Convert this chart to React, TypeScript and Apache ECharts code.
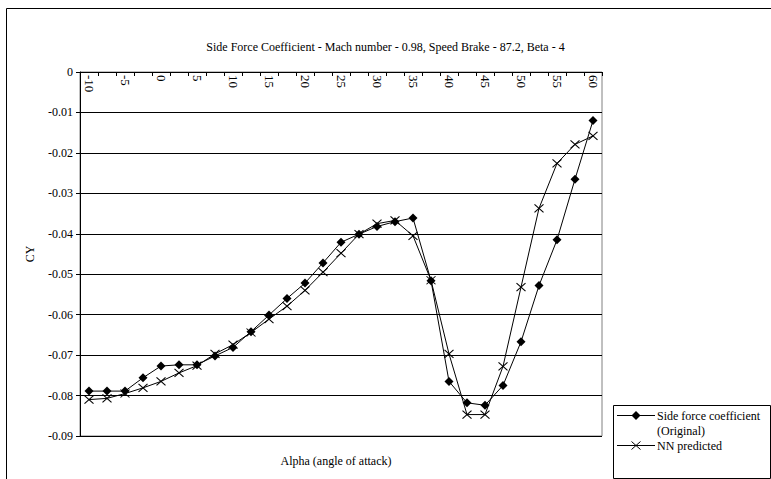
import React, { useEffect, useRef } from 'react';
import * as echarts from 'echarts';

const alphaCategories = ['-10', '-7.5', '-5', '-2.5', '0', '2.5', '5', '7.5', '10', '12.5', '15', '17.5', '20', '22.5', '25', '27.5', '30', '32.5', '35', '37.5', '40', '42.5', '45', '47.5', '50', '52.5', '55', '57.5', '60'];

const originalCY = [-0.0789, -0.0789, -0.0789, -0.0756, -0.0727, -0.0724, -0.0724, -0.0702, -0.0681, -0.0642, -0.0601, -0.0560, -0.0522, -0.0472, -0.0421, -0.0401, -0.0382, -0.0370, -0.0361, -0.0516, -0.0765, -0.0818, -0.0824, -0.0775, -0.0667, -0.0528, -0.0415, -0.0265, -0.0120];

const nnPredictedCY = [-0.0810, -0.0807, -0.0795, -0.0781, -0.0765, -0.0744, -0.0726, -0.0697, -0.0674, -0.0644, -0.0611, -0.0579, -0.0540, -0.0495, -0.0448, -0.0401, -0.0375, -0.0367, -0.0405, -0.0515, -0.0697, -0.0847, -0.0847, -0.0728, -0.0532, -0.0337, -0.0226, -0.0179, -0.0158];

const yMin = -0.09;
const yMax = 0;
const yInterval = 0.01;

const titleText = 'Side Force Coefficient - Mach number - 0.98, Speed Brake - 87.2, Beta - 4';
const xAxisTitle = 'Alpha (angle of attack)';
const yAxisTitle = 'CY';
const seriesNames = ['Side force coefficient\n(Original)', 'NN predicted'];

const FONT = '"Liberation Serif", "Times New Roman", serif';
const CROSS = 'path://M0 0L10 10M10 0L0 10';

export default function App() {
  const ref = useRef<HTMLDivElement>(null);
  useEffect(() => {
    const chart = echarts.init(ref.current!, null, { renderer: 'svg' });
    const option: any = {
      animation: false,
      backgroundColor: '#fff',
      title: {
        text: titleText,
        left: 'center',
        top: 36,
        textStyle: { fontFamily: FONT, fontSize: 12, fontWeight: 'normal', color: '#000' },
      },
      grid: {
        left: 80,
        top: 72,
        right: 169,
        bottom: 43,
        show: true,
        borderColor: '#808080',
        borderWidth: 1,
        backgroundColor: 'transparent',
      },
      xAxis: {
        type: 'category',
        data: alphaCategories,
        position: 'top',
        boundaryGap: true,
        axisLine: { show: true, onZero: false, lineStyle: { color: '#000', width: 1 } },
        axisTick: { show: true, inside: true, length: 4, interval: 0, alignWithLabel: false, lineStyle: { color: '#000' } },
        axisLabel: {
          interval: 1,
          rotate: 90,
          inside: true,
          margin: 3,
          fontFamily: FONT,
          fontSize: 13,
          color: '#000',
        },
        splitLine: { show: false },
      },
      yAxis: {
        type: 'value',
        min: yMin,
        max: yMax,
        interval: yInterval,
        axisLine: { show: true, lineStyle: { color: '#000', width: 1 } },
        axisTick: { show: true, inside: false, length: 4, lineStyle: { color: '#000' } },
        axisLabel: {
          margin: 7,
          fontFamily: FONT,
          fontSize: 12,
          color: '#000',
          formatter: (v: number) => (Math.abs(v) < 1e-9 ? '0' : v.toFixed(2)),
        },
        splitLine: { show: true, lineStyle: { color: '#000', width: 1 } },
      },
      series: [
        {
          name: seriesNames[0],
          type: 'line',
          data: originalCY,
          symbol: 'diamond',
          symbolSize: 9,
          showAllSymbol: true,
          lineStyle: { color: '#000', width: 1 },
          itemStyle: { color: '#000', borderColor: '#000', borderWidth: 0 },
          z: 3,
        },
        {
          name: seriesNames[1],
          type: 'line',
          data: nnPredictedCY,
          symbol: CROSS,
          symbolSize: [9, 8],
          showAllSymbol: true,
          lineStyle: { color: '#000', width: 1 },
          itemStyle: { color: 'none', borderColor: '#000', borderWidth: 1 },
          z: 2,
        },
      ],
      graphic: [
        {
          type: 'rect',
          shape: { x: 6.5, y: 8.5, width: 820, height: 520 },
          style: { fill: 'none', stroke: '#000', lineWidth: 1 },
          silent: true,
        },
        {
          type: 'text',
          x: 30,
          y: 254,
          rotation: Math.PI / 2,
          style: { text: yAxisTitle, fontFamily: FONT, fontSize: 12, fill: '#000', align: 'center', verticalAlign: 'middle' },
        },
        {
          type: 'text',
          x: 336,
          y: 461,
          style: { text: xAxisTitle, fontFamily: FONT, fontSize: 12, fill: '#000', align: 'center', verticalAlign: 'middle' },
        },
        {
          type: 'rect',
          shape: { x: 613.5, y: 405.5, width: 157, height: 73 },
          style: { fill: '#fff', stroke: '#000', lineWidth: 1 },
        },
        {
          type: 'line',
          shape: { x1: 617, y1: 415.5, x2: 655, y2: 415.5 },
          style: { stroke: '#000', lineWidth: 1 },
        },
        {
          type: 'polygon',
          shape: { points: [[636, 411], [640.5, 415.5], [636, 420], [631.5, 415.5]] },
          style: { fill: '#000' },
        },
        {
          type: 'text',
          x: 657,
          y: 415.5,
          style: { text: 'Side force coefficient', fontFamily: FONT, fontSize: 12, fill: '#000', verticalAlign: 'middle' },
        },
        {
          type: 'text',
          x: 657,
          y: 430.5,
          style: { text: '(Original)', fontFamily: FONT, fontSize: 12, fill: '#000', verticalAlign: 'middle' },
        },
        {
          type: 'line',
          shape: { x1: 617, y1: 445.5, x2: 655, y2: 445.5 },
          style: { stroke: '#000', lineWidth: 1 },
        },
        {
          type: 'line',
          shape: { x1: 631.5, y1: 441.5, x2: 640.5, y2: 449.5 },
          style: { stroke: '#000', lineWidth: 1 },
        },
        {
          type: 'line',
          shape: { x1: 640.5, y1: 441.5, x2: 631.5, y2: 449.5 },
          style: { stroke: '#000', lineWidth: 1 },
        },
        {
          type: 'text',
          x: 657,
          y: 445.5,
          style: { text: 'NN predicted', fontFamily: FONT, fontSize: 12, fill: '#000', verticalAlign: 'middle' },
        },
      ],
    };
    chart.setOption(option);
    return () => chart.dispose();
  }, []);
  return (
    <div
      ref={ref}
      style={{ position: 'fixed', left: 0, top: 0, width: 771, height: 479, background: '#fff' }}
    />
  );
}
